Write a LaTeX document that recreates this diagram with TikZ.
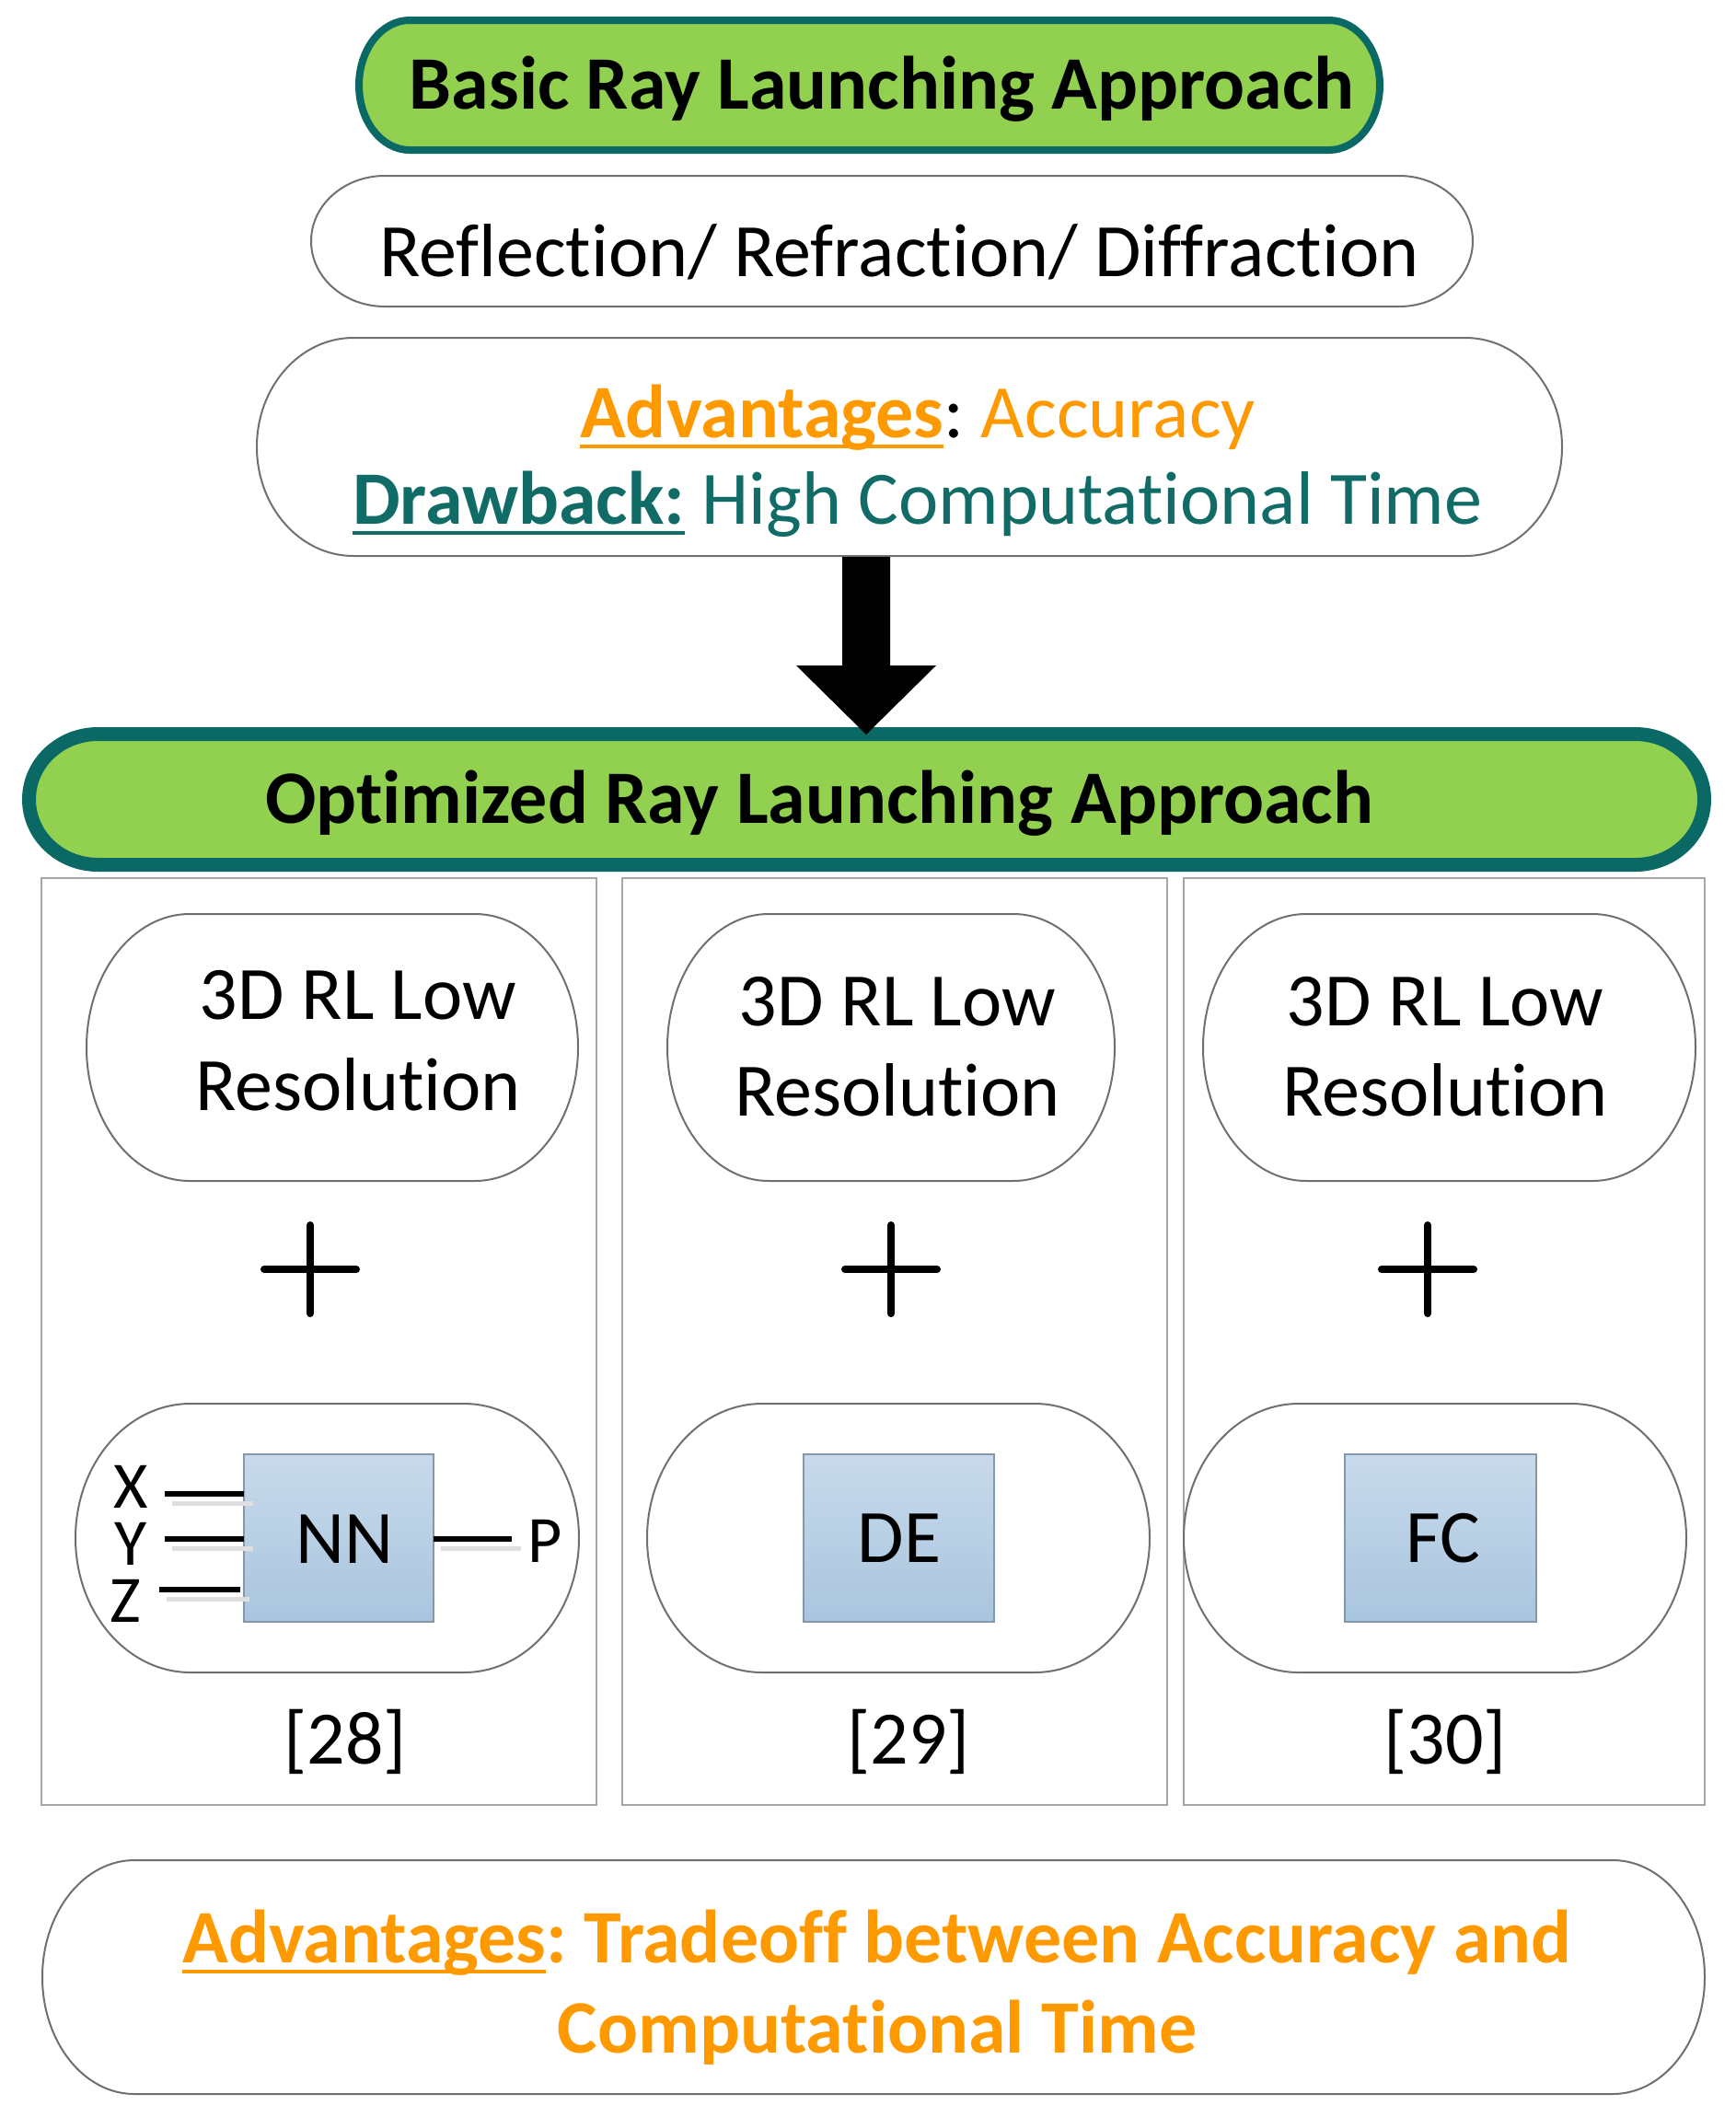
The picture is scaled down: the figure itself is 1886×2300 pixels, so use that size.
\documentclass[tikz,border=0pt]{standalone}
\usepackage{fontspec}
\setmainfont{Carlito}[Ligatures={NoCommon,NoRequired}]
\usetikzlibrary{calc}
\definecolor{grn}{HTML}{92D050}
\definecolor{tealb}{HTML}{0A6964}
\definecolor{tealtxt}{HTML}{116B66}
\definecolor{org}{HTML}{FF9900}
\definecolor{bluetop}{HTML}{C8DAEB}
\definecolor{bluebot}{HTML}{A9C5DE}
\definecolor{blueedge}{HTML}{8497AB}
\definecolor{pillgray}{HTML}{707070}
\definecolor{panelgray}{HTML}{A6A6A6}
\frenchspacing
\newcommand\fs{\fontsize{82}{98}\selectfont}
\newcommand\fsm{\fontsize{72}{86}\selectfont}
\newcommand\ulc[1]{\setbox0\hbox{#1}\leavevmode\rlap{\rule[-0.15em]{\wd0}{0.055em}}\box0}
% pill outline around an (empty) rectangle node
\newcommand\pill[4]{%
  \path[#1] ([xshift=#3]#2.north west) -- ([xshift=-#3]#2.north east)
    arc[start angle=90,end angle=-90,x radius=#3,y radius=#4]
    -- ([xshift=#3]#2.south west)
    arc[start angle=270,end angle=90,x radius=#3,y radius=#4] -- cycle;}
\tikzset{
  shapebox/.style={rectangle,inner sep=0pt,outer sep=0pt,draw=none},
  txt/.style={anchor=base,inner sep=0pt,outer sep=0pt,font=\fs},
  small/.style={anchor=base,inner sep=0pt,outer sep=0pt,font=\fsm,text height=46pt,text depth=0pt},
  greenpill/.style={fill=grn,draw=tealb},
  whitepill/.style={fill=white,draw=pillgray,line width=2pt},
  panel/.style={rectangle,draw=panelgray,line width=2.5pt,inner sep=0pt,outer sep=0pt},
  nnbox/.style={rectangle,draw=blueedge,line width=2pt,top color=bluetop,bottom color=bluebot,inner sep=0pt,outer sep=0pt},
  plusline/.style={line width=8pt,line cap=round},
  ioline/.style={line width=6pt},
  ioshadow/.style={line width=5pt,gray!25},
}
\begin{document}
\begin{tikzpicture}[x=1pt,y=-1pt]
\fill[white] (0,0) rectangle (1886,2300);
\useasboundingbox (0,0) rectangle (1886,2300);

% ---- top part ----
\node[shapebox,minimum width=1109pt,minimum height=141pt] (basic) at (944.5,92.5) {};
\pill{greenpill,line width=8pt}{basic}{55pt}{70.5pt}
\node[txt] (tbasic) at (958,118) {\bfseries Basic Ray Launching Approach};

\node[shapebox,minimum width=1262pt,minimum height=142pt] (refl) at (969,262) {};
\pill{whitepill}{refl}{80pt}{71pt}
\node[txt] (trefl) at (977,300) {Reflection/ Refraction/ Diffraction};

\node[shapebox,minimum width=1418pt,minimum height=237pt] (advbox) at (988,485.5) {};
\pill{whitepill}{advbox}{105pt}{118.5pt}
\node[txt] (tadv) at (997,475) {{\color{org}\bfseries\ulc{Advantages}}: {\color{org}Accuracy}};
\node[txt] (tdraw) at (997,569) {\color{tealtxt}{\bfseries\ulc{Drawback:}} High Computational Time};

% ---- optimized box ----
\node[shapebox,minimum width=1820pt,minimum height=142pt] (opt) at (941.5,868.5) {};
\pill{greenpill,line width=15pt}{opt}{75pt}{71pt}
\node[txt] (topt) at (890,894) {\bfseries Optimized Ray Launching Approach};

% block arrow
\coordinate (arrtop) at (941,605);
\coordinate (arrtip) at (941,798);
\fill[black] ($(arrtop)+(-26,0)$) -- ($(arrtop)+(26,0)$) -- ($(arrtop)+(26,118)$)
  -- ($(arrtop)+(76,118)$) -- (arrtip) -- ($(arrtop)+(-76,118)$) -- ($(arrtop)+(-26,118)$) -- cycle;

% ---- panels ----
\node[panel,minimum width=603pt,minimum height=1007pt] (pan1) at (346.5,1457.5) {};
\node[panel,minimum width=592pt,minimum height=1007pt] (pan2) at (972,1457.5) {};
\node[panel,minimum width=566pt,minimum height=1007pt] (pan3) at (1569,1457.5) {};

% top pills
\node[shapebox,minimum width=534pt,minimum height=290pt] (rl1) at (361,1138) {};
\node[shapebox,minimum width=486pt,minimum height=290pt] (rl2) at (968,1138) {};
\node[shapebox,minimum width=535pt,minimum height=290pt] (rl3) at (1574.5,1138) {};
\pill{whitepill}{rl1}{112pt}{145pt}
\pill{whitepill}{rl2}{110pt}{145pt}
\pill{whitepill}{rl3}{112pt}{145pt}
\node[txt] (trl1a) at (389,1107) {3D RL Low};
\node[txt] (trl1b) at (389,1206) {Resolution};
\node[txt] (trl2a) at (975,1114) {3D RL Low};
\node[txt] (trl2b) at (975,1212) {Resolution};
\node[txt] (trl3a) at (1570,1114) {3D RL Low};
\node[txt] (trl3b) at (1570,1212) {Resolution};

% plus signs
\coordinate (plus1) at (337,1379);
\coordinate (plus2) at (968,1379);
\coordinate (plus3) at (1551,1379);
\foreach \p in {plus1,plus2,plus3}{
  \draw[plusline] ($(\p)+(-50,0)$) -- ($(\p)+(50,0)$);
  \draw[plusline] ($(\p)+(0,-48)$) -- ($(\p)+(0,48)$);
}

% bottom pills
\node[shapebox,minimum width=547pt,minimum height=292pt] (m1) at (355.5,1671) {};
\node[shapebox,minimum width=546pt,minimum height=292pt] (m2) at (976,1671) {};
\node[shapebox,minimum width=546pt,minimum height=292pt] (m3) at (1559,1671) {};
\pill{whitepill}{m1}{125pt}{146pt}
\pill{whitepill}{m2}{125pt}{146pt}
\pill{whitepill}{m3}{125pt}{146pt}

% blue boxes
\node[nnbox,minimum width=206pt,minimum height=182pt] (nn) at (368,1671) {};
\node[nnbox,minimum width=207pt,minimum height=182pt] (de) at (976.5,1671) {};
\node[nnbox,minimum width=208pt,minimum height=182pt] (fc) at (1565,1671) {};
\node[txt] (tnn) at (374,1698) {NN};
\node[txt] (tde) at (977,1697) {DE};
\node[txt] (tfc) at (1568,1697) {FC};

% NN inputs / output
\coordinate (xin) at (179,1623);
\coordinate (yin) at (179,1672);
\coordinate (zin) at (173,1727);
\coordinate (pout) at (556,1672);
\draw[ioshadow] ($(xin)+(8,10)$) -- ($(xin -| nn.west)+(10,10)$);
\draw[ioshadow] ($(yin)+(8,10)$) -- ($(yin -| nn.west)+(10,10)$);
\draw[ioshadow] ($(zin)+(8,10)$) -- ($(zin -| nn.west)+(6,10)$);
\draw[ioshadow] ($(nn.east |- pout)+(8,10)$) -- ($(pout)+(10,10)$);
\draw[ioline] (xin) -- (xin -| nn.west);
\draw[ioline] (yin) -- (yin -| nn.west);
\draw[ioline] (zin) -- ($(zin -| nn.west)+(-4,0)$);
\draw[ioline] (nn.east |- pout) -- (pout);
\node[small] (lx) at (142,1638) {X};
\node[small] (ly) at (142,1700) {Y};
\node[small] (lz) at (136,1762) {Z};
\node[small] (lp) at (592,1697) {P};

% references
\node[txt] (r28) at (375,1916) {[28]};
\node[txt] (r29) at (987,1916) {[29]};
\node[txt] (r30) at (1570,1916) {[30]};

% ---- bottom box ----
\node[shapebox,minimum width=1806pt,minimum height=254pt] (final) at (949,2148) {};
\pill{whitepill}{final}{100pt}{127pt}
\node[txt] (tfin1) at (953,2132) {\color{org}\bfseries\ulc{Advantages}: Tradeoff between Accuracy and};
\node[txt] (tfin2) at (953,2230) {\color{org}\bfseries Computational Time};
\end{tikzpicture}
\end{document}
